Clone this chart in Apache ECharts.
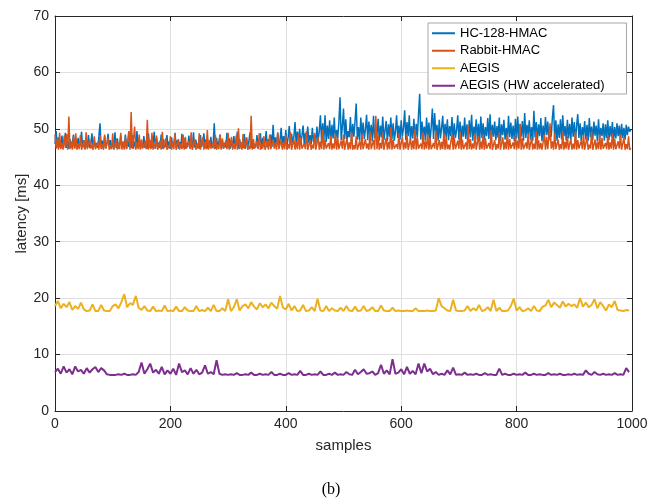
<!DOCTYPE html>
<html>
<head>
<meta charset="utf-8">
<script src="https://cdn.jsdelivr.net/npm/echarts@6/dist/echarts.min.js"></script>
<style>
  html, body { margin: 0; padding: 0; background: #fff; }
</style>
</head>
<body>
<div id="chart" style="width: 662px; height: 501px"></div>
<script>
// HMAC traces are read every 2 samples, AEGIS traces every 5
const denseStep = 2
const sparseStep = 5
const seriesNames = ['HC-128-HMAC', 'Rabbit-HMAC', 'AEGIS', 'AEGIS (HW accelerated)']

const hc128 = [
  47.3,49.6,46.7,48.5,47.0,46.6,48.8,46.8,47.6,49.3,46.6,47.9,46.5,48.2,46.7,47.4,49.0,46.6,47.8,46.5,
  48.4,46.8,47.2,49.5,46.6,48.0,46.5,47.7,46.7,48.9,46.6,47.3,49.2,46.5,48.1,46.8,47.5,46.6,48.6,51.0,
  46.7,47.9,46.5,48.7,46.6,47.4,49.1,46.8,48.0,46.5,47.6,46.7,49.4,46.6,48.3,46.5,47.2,48.8,46.7,47.7,
  46.6,49.0,46.5,48.2,46.8,47.5,46.6,48.9,46.5,47.8,46.7,49.6,46.6,48.1,46.5,47.3,46.8,48.7,46.6,47.9,
  46.5,49.2,46.7,48.0,46.6,47.4,49.5,46.5,48.4,46.8,47.6,46.6,49.0,46.5,48.2,46.7,47.1,48.9,46.6,47.8,
  46.5,48.5,46.8,47.3,49.3,46.6,48.0,46.5,47.7,46.7,49.1,46.6,48.3,46.5,47.5,46.8,48.8,46.6,47.9,46.5,
  49.4,46.7,48.1,46.6,47.4,46.5,48.9,46.8,47.6,49.2,46.6,48.2,46.5,47.8,46.7,48.6,46.6,47.3,51.0,46.5,
  48.4,46.8,47.7,49.0,46.6,48.1,46.5,47.5,46.7,49.3,46.6,48.3,46.5,47.9,46.8,48.7,46.6,47.4,49.5,46.5,
  48.2,46.7,47.6,46.6,49.1,46.5,48.5,46.8,47.8,49.4,46.6,48.0,46.5,47.3,46.7,48.9,46.6,47.7,49.2,46.5,
  48.4,46.9,47.5,49.6,46.7,48.2,47.0,49.0,46.8,50.7,47.1,48.5,46.9,49.3,47.2,48.0,50.2,46.8,48.7,47.3,
  49.8,47.0,48.4,50.5,47.2,49.1,47.5,48.6,51.2,47.3,49.5,47.8,50.0,47.4,48.8,50.6,47.2,49.3,47.6,50.4,
  47.5,48.9,47.3,50.2,47.7,49.0,47.4,50.4,47.8,49.6,52.4,47.6,51.0,48.0,52.4,47.7,50.6,48.2,51.5,47.8,
  50.7,48.3,52.0,47.9,49.8,48.4,51.2,55.6,48.0,50.4,53.6,48.2,51.7,47.9,49.6,48.5,52.1,47.8,50.9,48.6,
  51.4,54.5,48.1,50.3,47.9,52.0,48.7,51.1,48.2,49.9,52.5,48.0,51.3,48.6,50.7,47.8,52.3,48.4,50.1,48.9,
  51.8,47.9,50.6,48.5,52.2,48.0,49.7,51.4,47.8,50.8,48.6,52.0,48.2,51.0,47.9,49.5,52.4,48.4,50.6,48.1,
  51.5,48.6,50.2,53.3,48.0,51.2,48.7,52.4,47.9,50.5,48.3,51.8,47.8,50.9,48.5,52.6,56.2,48.1,51.3,48.6,
  50.4,47.9,52.0,48.4,51.1,47.8,50.3,53.6,48.2,52.8,48.8,50.7,47.9,51.6,48.3,50.2,52.3,47.8,50.9,48.5,
  51.7,48.0,50.5,48.7,52.1,47.9,51.0,48.4,49.8,52.4,48.1,51.3,47.8,50.6,48.6,52.0,48.2,50.8,47.9,51.5,
  48.5,52.5,47.9,50.4,48.8,51.7,48.1,50.9,47.8,52.2,48.4,51.0,48.0,50.3,48.7,51.9,48.2,52.6,47.9,50.7,
  48.6,51.3,48.0,50.5,48.4,52.0,47.8,50.8,48.9,51.6,48.1,50.2,47.9,52.3,48.5,51.1,48.2,50.6,47.8,51.8,
  48.3,52.2,48.0,50.9,48.6,51.4,47.9,52.8,48.4,50.7,49.0,51.5,48.1,50.3,47.9,53.2,48.5,51.2,48.0,50.8,
  48.7,51.9,47.8,50.6,48.3,52.1,48.9,51.3,48.0,50.4,48.6,52.0,54.2,48.2,51.5,47.9,50.8,48.4,51.7,48.1,
  52.4,48.7,50.5,47.9,51.6,48.3,50.9,48.0,52.0,48.6,51.2,47.8,50.6,52.6,48.4,51.0,47.9,50.3,48.8,51.4,
  48.1,50.7,47.9,51.9,48.5,50.4,48.0,51.3,48.8,50.6,47.8,51.7,48.2,50.2,48.7,51.0,47.9,50.8,48.4,51.5,
  48.0,50.5,48.6,51.2,47.9,50.3,48.3,51.0,48.7,50.6,47.9,50.9,48.4,50.2,48.1,50.7,48.9,50.4,49.5,49.8,
]
const rabbit = [
  49.0,46.5,48.2,46.3,49.3,46.4,47.5,46.3,48.8,46.6,49.1,46.3,52.2,46.4,47.8,46.3,48.6,46.5,49.2,46.3,
  47.4,46.4,48.9,46.3,46.5,47.9,46.3,49.4,46.4,46.3,48.1,46.5,47.2,46.3,48.7,46.4,46.3,47.6,46.3,48.9,
  46.4,47.3,46.3,49.0,46.5,46.3,48.4,46.3,47.1,46.4,49.2,46.3,46.6,48.0,46.3,47.5,46.4,49.3,46.3,47.8,
  46.3,48.5,46.4,46.3,49.6,46.3,53.0,46.5,48.2,50.4,46.3,47.6,46.4,49.0,46.3,48.1,46.5,46.3,47.7,46.4,
  51.6,46.3,48.0,46.4,49.3,46.3,47.4,46.5,48.8,46.3,46.4,47.9,46.3,49.5,46.4,46.3,48.3,46.3,47.1,46.5,
  48.7,46.3,47.6,46.4,49.1,46.3,46.5,48.2,46.3,47.4,46.4,49.0,46.3,48.6,46.5,46.3,47.8,46.4,49.4,46.3,
  46.4,48.1,46.3,47.3,46.5,49.2,46.3,46.4,48.5,46.3,47.7,46.4,49.8,46.3,48.0,46.5,46.3,47.5,46.4,48.9,
  46.3,47.2,46.4,49.0,46.3,48.3,46.5,46.3,47.9,46.4,49.3,46.3,46.5,48.6,46.3,47.4,46.4,48.8,46.3,50.1,
  46.4,47.6,46.3,49.1,46.5,46.3,48.4,46.3,47.0,46.4,52.3,46.3,48.2,46.5,46.3,47.8,46.4,49.2,46.3,47.3,
  46.5,48.7,46.3,46.4,47.9,46.3,49.0,46.4,46.3,48.1,46.5,47.5,46.3,49.4,46.4,46.3,48.0,46.3,47.6,46.4,
  48.9,46.3,47.3,46.5,49.5,46.3,46.4,48.2,46.3,47.7,46.4,49.1,46.3,48.5,46.5,46.3,47.4,46.4,49.6,46.3,
  46.4,48.0,46.3,47.2,46.5,49.3,46.3,46.4,48.6,46.3,47.8,46.4,49.9,46.3,48.1,46.5,46.3,47.5,46.4,48.8,
  46.3,47.4,46.5,49.2,46.3,48.4,46.4,46.3,47.9,46.5,49.0,46.3,46.4,48.3,46.3,47.6,46.4,49.5,46.3,47.1,
  46.4,48.7,46.3,46.5,47.8,46.3,49.1,46.4,46.3,48.2,46.5,47.4,46.3,49.6,46.4,46.3,48.0,46.3,52.3,46.4,
  48.9,46.3,47.5,46.5,49.3,46.3,46.4,48.4,46.3,47.7,46.4,50.3,46.3,48.1,46.5,46.3,47.3,46.4,49.2,46.3,
  46.4,48.6,46.3,47.6,46.5,49.0,46.3,46.4,48.2,46.3,47.9,46.4,50.0,46.3,48.5,46.5,46.3,47.4,46.4,49.4,
  46.3,47.8,46.5,49.1,46.3,48.3,46.4,46.3,47.5,46.5,49.7,46.3,46.4,48.0,46.3,47.7,46.4,49.3,46.3,48.6,
  46.4,47.2,46.3,46.5,49.0,46.3,48.4,46.4,46.3,47.9,46.5,49.5,46.3,48.1,46.4,46.3,47.6,46.3,50.5,46.4,
  48.2,46.3,47.4,46.5,49.2,46.3,46.4,48.7,46.3,47.8,46.4,49.0,46.3,48.3,46.5,46.3,47.5,46.4,49.8,46.3,
  46.4,48.0,46.3,47.3,46.5,49.4,46.3,46.4,48.5,46.3,47.7,46.4,49.1,46.3,48.2,46.5,46.3,47.6,46.4,48.9,
  46.3,47.9,46.5,50.8,46.3,48.3,46.4,46.3,47.6,46.5,49.2,46.3,46.4,48.4,46.3,47.4,46.4,49.6,46.3,48.0,
  46.4,47.5,46.3,46.5,49.0,46.3,48.6,46.4,46.3,51.0,46.5,47.8,46.3,49.3,46.4,46.3,48.1,46.3,47.3,46.4,
  49.4,46.3,47.7,46.5,48.8,46.3,46.4,48.2,46.3,47.4,46.4,49.6,46.3,48.0,46.5,46.3,47.9,46.4,49.0,46.3,
  46.4,48.6,46.3,47.2,46.5,49.5,46.3,46.4,48.1,46.3,47.7,46.4,49.0,46.3,48.4,46.5,46.3,47.5,46.4,48.9,
  46.3,47.6,46.5,49.2,46.3,48.2,46.4,46.3,47.8,46.5,49.0,46.3,46.4,48.5,46.3,47.3,46.4,48.7,46.3,46.6,
]
const aegis = [
  18.6,19.5,18.2,19.0,18.4,19.3,17.9,18.6,18.1,19.2,18.0,17.7,17.8,18.9,17.7,17.7,18.8,17.8,17.7,17.7,
  18.6,18.9,18.2,19.3,20.7,18.4,19.1,18.8,20.4,18.3,17.9,18.6,17.8,17.7,18.5,17.7,17.8,17.7,18.7,17.7,
  17.8,17.7,18.5,17.7,17.7,18.4,17.8,17.7,17.7,18.6,17.7,17.9,17.7,18.3,17.7,18.8,17.7,17.7,18.2,17.7,
  19.8,17.7,18.4,19.8,17.8,18.6,18.9,18.2,19.3,18.5,18.0,19.1,18.4,18.9,18.2,19.2,18.6,18.1,20.4,18.3,
  18.0,19.0,17.8,18.6,17.7,17.8,18.8,17.7,17.8,18.4,17.7,19.9,17.8,17.7,18.6,17.7,18.2,17.8,17.7,18.3,
  17.7,18.6,17.8,17.7,18.5,17.7,17.8,18.6,17.7,17.9,18.4,17.7,17.7,18.7,17.8,17.7,17.7,18.3,17.7,17.8,
  17.7,17.7,17.8,17.7,17.7,18.2,17.7,17.7,17.7,17.8,17.7,17.7,17.8,20.0,18.6,18.2,17.8,17.7,19.7,17.8,
  17.7,17.7,17.8,18.6,17.7,18.2,17.8,18.8,17.7,17.9,18.4,17.7,19.7,17.7,18.3,17.7,17.7,17.8,18.6,19.9,
  17.8,18.4,17.7,17.8,18.2,17.7,18.6,17.8,17.7,18.5,18.7,19.7,18.4,19.2,18.8,18.3,19.4,18.5,19.0,18.6,
  18.9,18.3,20.0,18.5,19.2,18.4,18.8,19.8,18.2,19.3,18.6,17.8,18.9,18.4,19.5,17.9,17.8,17.7,17.9,17.8,
]
const aegisHw = [
  6.9,7.5,6.6,7.9,6.8,7.4,6.5,7.9,7.0,7.3,6.6,7.6,6.8,7.4,7.8,6.9,7.6,7.2,6.5,6.4,
  6.4,6.4,6.5,6.4,6.6,6.4,6.4,6.5,6.4,6.9,8.6,6.6,7.4,8.4,6.8,7.3,6.6,7.8,6.5,7.2,
  6.6,7.5,6.4,8.4,6.9,7.2,6.5,7.6,6.6,7.3,6.5,6.8,8.1,6.6,6.9,6.5,9.0,6.6,6.4,6.5,
  6.4,6.5,6.4,6.7,6.4,6.4,6.5,6.4,6.8,6.4,6.4,6.6,6.4,6.5,6.4,6.9,6.4,6.4,6.6,6.4,
  6.4,6.7,6.4,6.5,6.4,7.1,6.4,6.4,6.6,6.4,6.5,6.4,7.0,6.4,6.4,6.6,6.4,6.8,6.4,6.5,
  6.4,6.9,6.5,6.4,7.3,6.5,6.9,7.4,6.6,6.7,7.0,6.4,6.7,8.2,6.6,7.2,6.5,9.2,6.6,6.8,
  7.4,6.5,7.8,6.6,7.1,6.5,8.4,6.7,8.4,7.0,7.5,6.5,6.9,6.4,6.6,6.4,7.2,6.5,7.7,6.4,
  6.5,6.4,6.8,6.4,6.5,6.4,6.6,6.4,6.4,6.7,6.4,6.5,6.4,6.4,7.5,6.4,6.6,6.4,6.4,6.6,
  6.4,6.5,6.4,6.8,6.4,6.4,6.6,6.4,6.5,6.4,6.4,6.7,6.4,6.5,6.4,6.6,6.4,6.4,6.5,6.4,
  6.6,6.4,6.5,6.4,7.2,6.6,6.4,6.9,6.5,6.4,6.6,6.4,6.5,6.4,6.7,6.4,6.5,6.4,7.6,6.9,
]

const colors = ['#0072BD', '#D95319', '#EDB120', '#7E2F8E']
const font = "'Liberation Sans', Arial, sans-serif"
const axisColor = '#262626'

const toPairs = (arr, step) => arr.map((v, i) => [i * step, v])

const chart = echarts.init(document.getElementById('chart'), null, { renderer: 'canvas' })

// ticks pointing into the plot, like matlab
const tickIn = { show: true, inside: false, length: -5, lineStyle: { color: axisColor } }

const boxAxis = {
  axisLine: { show: true, onZero: false, lineStyle: { color: axisColor, width: 1 } },
  axisTick: tickIn,
  axisLabel: { show: false },
  splitLine: { show: false },
}

const option = {
  animation: false,
  color: colors,
  textStyle: { fontFamily: font },
  title: {
    text: '(b)',
    left: 'center',
    top: 477,
    textStyle: { fontFamily: "'Liberation Serif', 'DejaVu Serif', serif", fontSize: 16, fontWeight: 'normal', color: '#000' },
  },
  grid: { left: 55, right: 30, top: 16, bottom: 90 },
  legend: {
    left: 428,
    top: 23,
    orient: 'vertical',
    data: seriesNames,
    icon: 'rect',
    itemWidth: 23,
    itemHeight: 2,
    itemGap: 3,
    padding: [3, 22, 1, 4],
    borderColor: '#a6a6a6',
    borderWidth: 1,
    backgroundColor: '#fff',
    textStyle: { fontFamily: font, fontSize: 13, color: '#000', lineHeight: 14.5 },
  },
  xAxis: [{
    type: 'value',
    min: 0,
    max: 1000,
    interval: 200,
    name: 'samples',
    nameLocation: 'middle',
    nameGap: 27,
    nameMoveOverlap: false,
    nameTextStyle: { fontSize: 15, color: axisColor },
    axisLine: { show: true, onZero: false, lineStyle: { color: axisColor, width: 1 } },
    axisTick: tickIn,
    axisLabel: { fontSize: 14, color: axisColor, margin: 6, formatter: v => String(v) },
    splitLine: { show: true, lineStyle: { color: '#dfdfdf', width: 1 } },
  }, {
    type: 'value',
    position: 'top',
    min: 0,
    max: 1000,
    interval: 200,
    ...boxAxis,
  }],
  yAxis: [{
    type: 'value',
    min: 0,
    max: 70,
    interval: 10,
    name: 'latency [ms]',
    nameLocation: 'middle',
    nameGap: 26,
    nameMoveOverlap: false,
    nameTextStyle: { fontSize: 15, color: axisColor },
    axisLine: { show: true, onZero: false, lineStyle: { color: axisColor, width: 1 } },
    axisTick: tickIn,
    axisLabel: { fontSize: 14, color: axisColor, margin: 6 },
    splitLine: { show: true, lineStyle: { color: '#dfdfdf', width: 1 } },
  }, {
    type: 'value',
    position: 'right',
    min: 0,
    max: 70,
    interval: 10,
    ...boxAxis,
  }],
  series: [
    [hc128, denseStep], [rabbit, denseStep], [aegis, sparseStep], [aegisHw, sparseStep]
  ].map(([arr, step], i) => ({
    name: seriesNames[i],
    type: 'line',
    data: toPairs(arr, step),
    showSymbol: false,
    symbol: 'none',
    lineStyle: { width: i < 2 ? 1.5 : 2, color: colors[i] },
    itemStyle: { color: colors[i] },
  })),
}

chart.setOption(option)
</script>
</body>
</html>
